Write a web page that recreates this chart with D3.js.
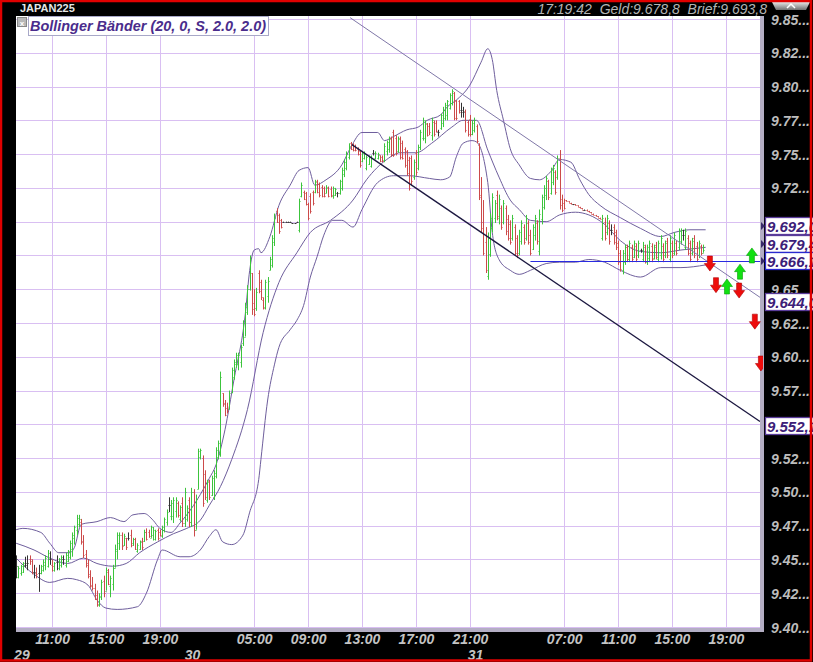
<!DOCTYPE html>
<html><head><meta charset="utf-8">
<script src="https://cdn.jsdelivr.net/npm/d3@7/dist/d3.min.js"></script>
<style>body{margin:0;background:#000;overflow:hidden}svg{display:block}</style>
</head><body>
<svg id="c" width="813" height="662"></svg>
<script>
// ---------------- DATA ----------------
const symbol = "JAPAN225";
const quoteText = "17:19:42  Geld:9.678,8  Brief:9.693,8";
const indicatorLabel = "Bollinger Bänder (20, 0, S, 2.0, 2.0)";

// day boundaries (bar index of first bar of day)
const dayLabels = ["29", "30", "31"];
const dayStarts = [0, 76, 202];

// 10-minute OHLC bars [open, high, low, close]
const bars29 = [
[9445,9453,9436,9445],[9437,9445,9436,9444],[9440,9446,9438,9445],[9441,9448,9440,9447],[9446,9452,9444,9446],
[9447,9453,9442,9447],[9450,9453,9446,9449],[9450,9450,9439,9441],[9441,9446,9436,9441],[9440,9444,9436,9439],
[9440,9446,9426,9440],[9440,9446,9439,9445],[9442,9450,9441,9448],[9446,9453,9442,9451],[9445,9457,9444,9455],
[9450,9456,9446,9450],[9446,9450,9441,9445],[9442,9448,9441,9447],[9448,9453,9442,9448],[9444,9451,9442,9450],
[9446,9453,9444,9452],[9450,9453,9446,9450],[9446,9455,9444,9453],[9449,9457,9448,9456],[9452,9464,9450,9462],
[9458,9470,9452,9468],[9466,9475,9461,9474],[9472,9483,9468,9481],[9476,9483,9474,9480],[9478,9480,9461,9463],
[9464,9468,9451,9453],[9454,9457,9444,9446],[9447,9450,9436,9438],[9439,9442,9429,9430],[9431,9437,9427,9429],
[9429,9432,9420,9421],[9424,9427,9415,9417],[9416,9425,9415,9423],[9422,9435,9420,9433],[9434,9438,9422,9425],
[9427,9444,9427,9442],[9441,9443,9431,9432],[9430,9438,9422,9436],[9432,9446,9427,9444],[9444,9461,9444,9458],
[9456,9470,9450,9468],[9462,9470,9457,9468],[9468,9470,9457,9460],[9461,9469,9460,9467],[9466,9466,9457,9459],
[9466,9470,9464,9466],[9468,9472,9459,9461],[9462,9466,9460,9465],[9465,9466,9457,9458],[9456,9462,9455,9461],
[9458,9464,9457,9463],[9464,9466,9457,9459],[9464,9472,9463,9470],[9470,9473,9464,9465],[9470,9472,9466,9467],
[9466,9475,9466,9474],[9468,9474,9464,9472],[9465,9472,9464,9471],[9472,9473,9464,9466],[9470,9472,9467,9468],
[9467,9475,9466,9474],[9472,9481,9470,9480],[9478,9487,9475,9485],[9490,9496,9485,9490],[9482,9494,9479,9492],
[9482,9496,9477,9494],[9486,9496,9481,9494],[9492,9493,9481,9483],[9480,9490,9478,9489],[9492,9496,9474,9477],
[9477,9503,9474,9500]
];
const bars30 = [
[9480,9490,9478,9488],[9494,9496,9474,9478],[9478,9503,9474,9500],[9500,9502,9467,9472],[9472,9498,9472,9495],
[9502,9532,9502,9530],[9526,9532,9524,9531],[9525,9527,9489,9492],[9513,9516,9494,9496],[9494,9509,9492,9507],
[9508,9509,9494,9496],[9498,9512,9497,9510],[9496,9516,9494,9514],[9512,9533,9510,9531],[9526,9538,9524,9536],
[9528,9589,9526,9585],[9573,9573,9563,9565],[9566,9568,9556,9557],[9562,9566,9558,9560],[9561,9575,9561,9573],
[9574,9592,9573,9590],[9585,9598,9583,9596],[9595,9603,9592,9601],[9595,9603,9590,9601],[9596,9609,9592,9607],
[9610,9627,9608,9625],[9615,9640,9615,9637],[9633,9653,9631,9650],[9650,9675,9649,9672],[9662,9662,9631,9635],
[9640,9650,9630,9632],[9636,9651,9634,9648],[9662,9664,9647,9649],[9655,9657,9642,9644],[9642,9644,9635,9636],
[9637,9657,9635,9655],[9645,9659,9640,9656],[9664,9674,9664,9672],[9668,9690,9666,9688],[9685,9706,9682,9703],
[9708,9710,9699,9700],[9705,9706,9691,9693],[9701,9702,9695,9696],[9700,9700,9700,9700],[9700,9700,9700,9700],
[9700,9700,9700,9700],[9700,9700,9700,9700],[9699,9699,9699,9699],[9699,9699,9699,9699],[9700,9700,9700,9700],
[9694,9717,9692,9715],[9719,9729,9718,9727],[9722,9723,9716,9717],[9721,9722,9712,9713],[9713,9714,9701,9703],
[9719,9721,9706,9708],[9722,9723,9712,9714],[9722,9731,9721,9729],[9730,9731,9721,9722],[9728,9729,9718,9720],
[9726,9727,9718,9719],[9725,9726,9718,9719],[9721,9727,9721,9726],[9725,9726,9718,9719],[9724,9726,9718,9720],
[9719,9726,9717,9725],[9720,9725,9719,9724],[9721,9722,9718,9721],[9721,9731,9720,9730],[9725,9740,9723,9738],
[9735,9746,9733,9744],[9740,9752,9738,9750],[9748,9758,9746,9756],[9758,9759,9753,9754],[9757,9758,9752,9753],
[9756,9757,9752,9753],[9754,9755,9749,9750],[9752,9753,9740,9742],[9745,9752,9744,9751],[9747,9752,9746,9750],
[9740,9749,9738,9748],[9743,9749,9742,9748],[9741,9749,9740,9747],[9751,9753,9749,9751],[9747,9752,9746,9751],
[9747,9751,9746,9750],[9749,9749,9744,9745],[9748,9749,9744,9745],[9746,9758,9744,9756],[9752,9760,9749,9759],
[9754,9763,9751,9761],[9762,9763,9748,9750],[9766,9768,9748,9749],[9762,9764,9749,9751],[9752,9763,9751,9761],
[9762,9763,9746,9748],[9758,9760,9746,9747],[9754,9755,9740,9742],[9752,9753,9734,9736],[9746,9748,9723,9725],
[9747,9749,9727,9730],[9733,9746,9731,9744],[9751,9753,9734,9737],[9740,9757,9738,9755],[9755,9768,9753,9766],
[9762,9777,9760,9775],[9762,9775,9758,9773],[9772,9773,9763,9764],[9771,9773,9764,9766],[9764,9777,9760,9775],
[9774,9775,9763,9765],[9773,9775,9766,9767],[9766,9768,9763,9766],[9769,9780,9768,9779],[9773,9785,9770,9783],
[9777,9788,9775,9786],[9779,9790,9775,9789],[9784,9795,9783,9794],[9788,9798,9786,9797],[9795,9796,9775,9777],
[9789,9790,9775,9777],[9789,9790,9780,9781],[9783,9788,9777,9783],[9781,9785,9777,9781],[9782,9783,9766,9768],
[9774,9775,9763,9765]
];
const bars31 = [
[9776,9779,9763,9765],[9765,9775,9764,9773],[9768,9777,9766,9775],[9771,9772,9758,9760],[9757,9758,9716,9718],
[9720,9733,9692,9695],[9700,9716,9675,9677],[9685,9696,9662,9664],[9660,9692,9657,9688],[9676,9706,9674,9703],
[9695,9721,9692,9718],[9703,9716,9699,9714],[9720,9723,9701,9704],[9703,9720,9698,9717],[9710,9712,9694,9696],
[9700,9716,9698,9714],[9710,9712,9690,9693],[9702,9705,9686,9688],[9698,9701,9683,9685],[9688,9705,9686,9703],
[9696,9698,9675,9677],[9688,9690,9673,9675],[9677,9694,9675,9692],[9686,9701,9683,9699],[9696,9698,9683,9685],
[9688,9705,9686,9703],[9699,9701,9683,9685],[9690,9694,9675,9677],[9680,9698,9679,9696],[9690,9705,9686,9703],
[9699,9701,9683,9686],[9678,9709,9675,9706],[9702,9720,9698,9718],[9711,9727,9709,9725],[9720,9734,9716,9732],
[9730,9731,9716,9718],[9721,9740,9720,9738],[9729,9742,9727,9740],[9737,9738,9720,9722],[9733,9749,9731,9747],
[9747,9753,9709,9712],[9717,9720,9707,9709],[9714,9717,9709,9710],[9716,9716,9715,9715],[9715,9715,9714,9714],
[9714,9714,9713,9713],[9713,9713,9713,9713],[9713,9713,9712,9712],[9712,9712,9711,9711],[9711,9711,9710,9710],
[9710,9710,9709,9709],[9709,9709,9709,9709],[9709,9709,9708,9708],[9708,9708,9707,9707],[9707,9707,9706,9706],
[9706,9706,9705,9705],[9705,9705,9704,9704],[9704,9704,9703,9703],[9703,9703,9702,9702],[9688,9705,9686,9703],
[9700,9703,9686,9688],[9692,9705,9690,9703],[9699,9701,9683,9686],[9694,9698,9690,9694],[9696,9698,9683,9685],
[9692,9694,9679,9681],[9684,9686,9668,9670],[9677,9679,9663,9665],[9664,9679,9661,9677],[9670,9683,9668,9681],
[9681,9683,9670,9672],[9672,9686,9670,9684],[9681,9683,9670,9672],[9674,9686,9673,9684],[9682,9684,9670,9672],
[9675,9686,9673,9684],[9679,9680,9677,9679],[9672,9685,9670,9683],[9681,9683,9669,9671],[9670,9683,9668,9681],
[9673,9686,9670,9684],[9682,9684,9670,9672],[9673,9683,9672,9681],[9683,9685,9672,9674],[9672,9686,9670,9684],
[9675,9690,9672,9688],[9682,9684,9670,9672],[9675,9686,9673,9684],[9686,9688,9673,9675],[9672,9690,9670,9688],
[9684,9686,9673,9675],[9677,9692,9675,9690],[9684,9686,9675,9677],[9681,9695,9679,9693],[9686,9695,9683,9694],
[9690,9694,9686,9690],[9681,9695,9679,9693],[9688,9690,9675,9677],[9684,9686,9670,9672],[9677,9688,9675,9686],
[9688,9690,9673,9675],[9682,9685,9670,9672],[9675,9686,9673,9684],[9682,9683,9675,9677],[9677,9683,9677,9679]
];

// Bollinger bands, read at [bar index, price]
const upperBand = [[0,9472],[3,9473],[11,9470],[15,9462],[19,9455],[24,9455],[26,9459],[29,9476],[36,9478],[42,9481],[48,9478],[52,9483],[57,9484],[61,9479],[64,9473],[69,9470],[73,9477],[79,9490],[82,9498],[86,9510],[89,9520],[93,9546],[97,9583],[102,9631],[104,9664],[106,9679],[108,9680],[109,9677],[113,9689],[117,9712],[122,9727],[126,9738],[130,9740],[133,9727],[138,9731],[145,9742],[149,9755],[154,9766],[161,9766],[164,9760],[168,9763],[174,9768],[179,9770],[183,9775],[189,9779],[192,9785],[196,9790],[202,9801],[207,9818],[210,9828],[212,9820],[214,9797],[217,9775],[220,9754],[224,9742],[229,9732],[233,9731],[238,9737],[242,9746],[247,9744],[251,9731],[255,9720],[260,9712],[269,9703],[278,9695],[287,9689],[293,9692],[300,9694],[307,9694]];
const middleBand = [[0,9462],[8,9457],[15,9451],[23,9447],[30,9451],[36,9447],[43,9445],[49,9447],[55,9455],[63,9463],[70,9469],[76,9473],[82,9479],[86,9490],[91,9504],[96,9524],[103,9561],[110,9618],[117,9655],[125,9677],[131,9692],[140,9701],[150,9716],[156,9731],[165,9746],[171,9751],[178,9751],[185,9758],[194,9770],[199,9775],[205,9775],[210,9753],[215,9733],[220,9716],[224,9709],[229,9701],[236,9700],[242,9705],[249,9707],[255,9705],[262,9698],[269,9686],[278,9678],[287,9677],[296,9679],[307,9681]];
const lowerBand = [[0,9451],[8,9439],[15,9433],[23,9436],[27,9435],[32,9431],[36,9420],[40,9414],[45,9413],[54,9415],[58,9425],[63,9450],[65,9457],[73,9452],[77,9452],[82,9457],[86,9467],[89,9472],[92,9463],[96,9461],[101,9468],[104,9485],[108,9509],[109,9524],[112,9568],[115,9594],[117,9607],[122,9620],[125,9627],[128,9638],[131,9659],[134,9674],[137,9690],[141,9701],[145,9701],[150,9696],[154,9709],[161,9729],[168,9734],[175,9734],[184,9732],[189,9731],[193,9733],[196,9748],[199,9758],[203,9760],[205,9759],[210,9729],[212,9692],[215,9672],[220,9664],[224,9661],[229,9664],[236,9669],[242,9670],[249,9670],[255,9672],[262,9670],[269,9664],[278,9659],[287,9666],[296,9666],[307,9668]];

// trend channel [bar index, price]
const channelTop = [[148.7, 9851], [331.2, 9644.0]];
const channelBottom = [[149.5, 9757], [331.2, 9552.1]];
const horizontalLine = {startIndex: 229, value: 9670.8};

// signal arrows [bar index, price, direction]
const signals = [[308.9,9669,"down"],[311.6,9653,"down"],[316.5,9652,"up"],[321.9,9649,"down"],[322.3,9663,"up"],[327.6,9675,"up"],[328.9,9626,"down"],[331.6,9595,"down"]];

// price tags on right axis
const tagTexts = ["9.692,0", "9.679,4", "9.666,1", "9.644,0", "9.552,1"];
const tagValues = [9692.0, 9679.4, 9670.8, 9644.0, 9552.1];
const tagKinds = ["band", "band", "line", "chan", "chan"];

// axes
const priceTicks = [9400,9425,9450,9475,9500,9525,9550,9575,9600,9625,9650,9675,9700,9725,9750,9775,9800,9825,9850];
const priceTickLabels = ["9.40...","9.42...","9.45...","9.47...","9.50...","9.52...","","9.57...","9.60...","9.62...","9.65","","9.70...","9.72...","9.75...","9.77...","9.80...","9.82...","9.85..."];
const timeTickIdx = [16,40,64,106,130,154,178,202,244,268,292,316];
const timeTickLabels = ["11:00","15:00","19:00","05:00","09:00","13:00","17:00","21:00","07:00","11:00","15:00","19:00"];

// ---------------- CHART ----------------
const W = 813, H = 662;
const plot = {l: 16, t: 16, r: 760, b: 628};
const svg = d3.select("#c");
const FONT = "'Liberation Sans', Arial, sans-serif";

const x = d3.scaleLinear().domain([0, 331.2]).range([16.1, 760]);
const y = d3.scaleLinear().domain([9400, 9850]).range([627, 19]);

const defs = svg.append("defs");
defs.append("clipPath").attr("id", "clip")
  .append("rect").attr("x", plot.l).attr("y", plot.t).attr("width", plot.r - plot.l).attr("height", plot.b - plot.t);
defs.append("clipPath").attr("id", "clipArrow")
  .append("rect").attr("x", plot.l).attr("y", plot.t).attr("width", plot.r - plot.l + 3).attr("height", plot.b - plot.t);
const grad = defs.append("linearGradient").attr("id", "btn").attr("x1", 0).attr("y1", 0).attr("x2", 0).attr("y2", 1);
grad.append("stop").attr("offset", "0").attr("stop-color", "#e8e8e8");
grad.append("stop").attr("offset", "1").attr("stop-color", "#707070");

svg.append("rect").attr("width", W).attr("height", H).attr("fill", "#000");

// plot background + bevel
svg.append("rect").attr("x", plot.l).attr("y", plot.t).attr("width", plot.r - plot.l + 4).attr("height", plot.b - plot.t + 4).attr("fill", "#b4aec4");
svg.append("rect").attr("x", plot.l).attr("y", plot.t).attr("width", plot.r - plot.l).attr("height", plot.b - plot.t).attr("fill", "#fff");

const g = svg.append("g").attr("clip-path", "url(#clip)");

// grid
const gridColor = "#d9bff2";
g.selectAll(".hg").data(priceTicks).join("line")
  .attr("x1", plot.l).attr("x2", plot.r)
  .attr("y1", d => Math.round(y(d)) + 0.5).attr("y2", d => Math.round(y(d)) + 0.5)
  .attr("stroke", gridColor).attr("stroke-width", 1);
g.selectAll(".vg").data(timeTickIdx).join("line")
  .attr("x1", d => Math.round(x(d)) + 0.5).attr("x2", d => Math.round(x(d)) + 0.5)
  .attr("y1", plot.t).attr("y2", plot.b)
  .attr("stroke", gridColor).attr("stroke-width", 1);

// combine bars
const allBars = [];
[bars29, bars30, bars31].forEach((arr, k) => arr.forEach((b, j) => allBars.push({i: dayStarts[k] + j, o: b[0], h: b[1], l: b[2], c: b[3]})));

// Bollinger bands
const bandLine = d3.line().x(d => x(d[0])).y(d => y(d[1])).curve(d3.curveMonotoneX);
[upperBand, middleBand, lowerBand].forEach(b => {
  g.append("path").attr("d", bandLine(b)).attr("fill", "none").attr("stroke", "#6e5e9c").attr("stroke-width", 1);
});

// bars
const colorOf = d => d.c > d.o ? "#3cc43c" : (d.c < d.o ? "#cc4a4a" : "#333");
const bg = g.append("g");
allBars.forEach(d => {
  const xc = Math.round(x(d.i)) + 0.5;
  const col = colorOf(d);
  const yh = y(d.h), yl = y(d.l);
  bg.append("line").attr("x1", xc).attr("x2", xc).attr("y1", yh).attr("y2", Math.max(yl, yh + 1)).attr("stroke", col).attr("stroke-width", 1);
  bg.append("line").attr("x1", xc - 1).attr("x2", xc).attr("y1", Math.round(y(d.o)) + 0.5).attr("y2", Math.round(y(d.o)) + 0.5).attr("stroke", col).attr("stroke-width", 1);
  bg.append("line").attr("x1", xc).attr("x2", xc + 1).attr("y1", Math.round(y(d.c)) + 0.5).attr("y2", Math.round(y(d.c)) + 0.5).attr("stroke", col).attr("stroke-width", 1);
});

// channel lines
const seg = d3.line().x(d => x(d[0])).y(d => y(d[1]));
g.append("path").attr("d", seg(channelTop)).attr("stroke", "#8078a8").attr("stroke-width", 1).attr("fill", "none");
g.append("path").attr("d", seg(channelBottom)).attr("stroke", "#1c1840").attr("stroke-width", 1.3).attr("fill", "none");
// horizontal line
g.append("line").attr("x1", x(horizontalLine.startIndex)).attr("x2", plot.r)
  .attr("y1", Math.round(y(horizontalLine.value)) + 0.5).attr("y2", Math.round(y(horizontalLine.value)) + 0.5)
  .attr("stroke", "#2a2ae0").attr("stroke-width", 1);

// signal arrows
const arrowPath = "M-2.5,-7.5 L2.5,-7.5 L2.5,0 L5.5,0 L0,7.5 L-5.5,0 L-2.5,0 Z";
const ag = svg.append("g").attr("clip-path", "url(#clipArrow)");
signals.forEach(s => {
  const down = s[2] === "down";
  ag.append("path").attr("d", arrowPath)
    .attr("transform", `translate(${x(s[0])},${y(s[1])}) scale(1,${down ? 1 : -1})`)
    .attr("fill", down ? "#ee0c0c" : "#12e012")
    .attr("stroke", down ? "#b00000" : "#08a008").attr("stroke-width", 0.6);
});

// legend
svg.append("rect").attr("x", 28.5).attr("y", 16.5).attr("width", 240).attr("height", 19).attr("fill", "#fff").attr("stroke", "#a8a8c8");
svg.append("rect").attr("x", 17.5).attr("y", 17.5).attr("width", 9).attr("height", 9).attr("fill", "#b8b8b8").attr("stroke", "#888");
svg.append("text").attr("x", 22).attr("y", 25.5).attr("text-anchor", "middle").attr("font-size", 8).attr("font-weight", "bold").attr("fill", "#fff").attr("font-family", FONT).text("x");
svg.append("text").attr("x", 30).attr("y", 31).attr("font-family", FONT).attr("font-size", 15).attr("font-weight", "bold").attr("font-style", "italic")
  .attr("fill", "#4a2c8c").attr("textLength", 236).attr("lengthAdjust", "spacingAndGlyphs").text(indicatorLabel);

// right axis
const yAxis = d3.axisRight(y).tickValues(priceTicks).tickFormat((d, i) => priceTickLabels[i]).tickSize(0).tickPadding(0);
const ya = svg.append("g").attr("transform", "translate(771,0)").call(yAxis);
ya.select(".domain").remove();
ya.selectAll("text").attr("font-family", FONT).attr("font-size", 14).attr("font-weight", "bold").attr("font-style", "italic").attr("fill", "#bdbdbd").attr("dy", "0.36em");

// bottom axis
const xAxis = d3.axisBottom(x).tickValues(timeTickIdx).tickFormat((d, i) => timeTickLabels[i]).tickSize(0).tickPadding(0);
const xa = svg.append("g").attr("transform", "translate(0,634)").call(xAxis);
xa.select(".domain").remove();
xa.selectAll("text").attr("font-family", FONT).attr("font-size", 14).attr("font-weight", "bold").attr("font-style", "italic").attr("fill", "#c4c4c4").attr("dy", "0.72em");

// day labels
svg.selectAll(".day").data(dayLabels).join("text")
  .attr("x", (d, k) => Math.max(7, x(dayStarts[k]) - 2)).attr("y", 660)
  .attr("font-family", FONT).attr("font-size", 14).attr("font-weight", "bold").attr("font-style", "italic").attr("fill", "#c4c4c4")
  .text(d => d);

// price tags
const tagOffset = [-6.5, -5.5, 0, 5, 5];
tagValues.forEach((v, k) => {
  const cy = Math.round(y(v) + tagOffset[k]);
  const stroke = tagKinds[k] === "line" ? "#2a2ad0" : "#5a3c9a";
  if (k < 3) {
    svg.append("path").attr("d", `M761,${cy - 4} L765,${cy} L761,${cy + 4} Z`).attr("fill", "#3a2a6a");
  }
  svg.append("rect").attr("x", 765.5).attr("y", cy - 8.5).attr("width", 52).attr("height", 17).attr("fill", "#fff").attr("stroke", stroke).attr("stroke-width", 1.3);
  svg.append("text").attr("x", 767).attr("y", cy + 5.5).attr("font-family", FONT).attr("font-size", 15).attr("font-weight", "bold").attr("font-style", "italic").attr("fill", "#3c2078").text(tagTexts[k]);
});

// header
svg.append("text").attr("x", 20).attr("y", 12).attr("font-family", "'Liberation Sans Narrow', 'Arial Narrow', " + FONT).attr("font-size", 11).attr("font-weight", "bold").attr("fill", "#e6e6e6").text(symbol);
svg.append("text").attr("x", 767).attr("y", 14).attr("text-anchor", "end").attr("font-family", FONT).attr("font-size", 14).attr("font-style", "italic").attr("fill", "#b4b4b4").style("white-space", "pre").text(quoteText);
// scroll button
svg.append("path").attr("d", "M772,2 L810,2 L806,10 L776,10 Z").attr("fill", "url(#btn)");
svg.append("path").attr("d", "M787,8 L791,4 L795,8").attr("stroke", "#fff").attr("stroke-width", 1.5).attr("fill", "none");

// red frame
svg.append("rect").attr("x", 1).attr("y", 1).attr("width", W - 3).attr("height", H - 2.5).attr("fill", "none").attr("stroke", "#e00000").attr("stroke-width", 2.5);
</script>
</body></html>
